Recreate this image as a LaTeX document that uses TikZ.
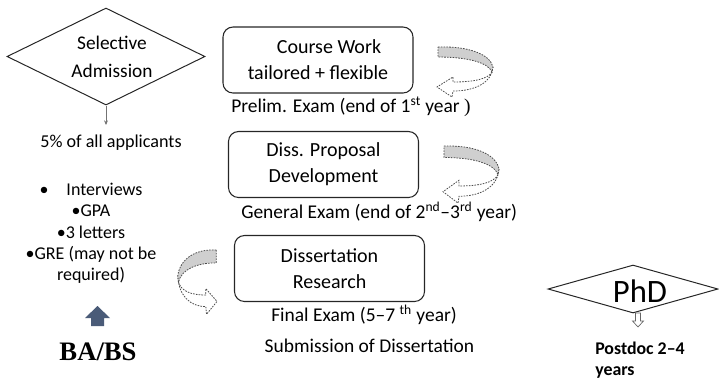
\documentclass[tikz,border=0pt]{standalone}
\usepackage{fontspec}
\setmainfont{Carlito}
\newfontfamily\timesfont{Liberation Serif}
\usetikzlibrary{shapes.geometric,arrows.meta}
\definecolor{slateblue}{HTML}{4A5B78}
\definecolor{bandgray}{HTML}{CFCFCF}
\begin{document}
\begin{tikzpicture}[x=0.75pt,y=-0.75pt,
  txt/.style={inner sep=0pt, font=\fontsize{14.6}{17}\selectfont},
  stagebox/.style={draw=black!85, line width=0.8pt, rounded corners=7.5pt,
    minimum width=142.5pt, minimum height=49.5pt, inner sep=0pt, align=center,
    font=\fontsize{15}{19.5}\selectfont},
  gate/.style={diamond, draw=black!85, line width=0.75pt, inner sep=0pt},
  ribbonback/.style={fill=bandgray, draw=black!70, dash pattern=on 1.2pt off 0.9pt, line width=0.6pt},
  ribbonfront/.style={fill=white, draw=black!70, dash pattern=on 1.2pt off 0.9pt, line width=0.6pt},
  uturn/.pic={
    \path[ribbonfront] (54,2) .. controls (50,9) and (36,12) .. (15,12) -- (15,7) -- (-1,17)
      -- (14,27) -- (15,21) .. controls (38,21) and (54,12) .. (55,-3);
    \path[ribbonback] (0,-23) .. controls (30,-24) and (52,-16) .. (55,-3) -- (54,2)
      .. controls (50,-8) and (28,-13) .. (0,-13) -- cycle;
  }
]
\useasboundingbox (0,0) rectangle (719,380);

% admission gate
\node[gate, minimum width=148.5pt, minimum height=72.75pt] (adm) at (106,56.5) {};
\node[inner sep=0pt, align=center, font=\fontsize{14.5}{21}\selectfont] (admtxt) at (112,57) {Selective\\Admission};
\coordinate (admend) at (106,125);
\draw[black!55, line width=0.75pt, -{Stealth[length=3.5pt,width=3pt]}] (adm.south) -- (admend);

\node[txt, font=\fontsize{13.6}{16}\selectfont] (pct) at (111,143) {5\% of all applicants};

\node[inner sep=0pt, align=center, font=\fontsize{13.5}{15.9}\selectfont, anchor=north] (reqs) at (91,183)
  {•\quad Interviews\\•GPA\\•3 letters\\•GRE (may not be\\required)};

% bachelor entry
\fill[slateblue] (97.5,306) -- (110,318) -- (104,318) -- (104,326) -- (91,326) -- (91,318) -- (85,318) -- cycle;
\node[inner sep=0pt, font=\timesfont\bfseries\fontsize{20}{24}\selectfont] (ba) at (98,352) {BA/BS};

% programme stages
\node[stagebox] (cw) at (318,60) {\hspace*{1.1em}Course Work\\tailored + flexible};
\node[txt, anchor=west] (prelim) at (231,107) {Prelim. Exam (end of 1\textsuperscript{st} year {\timesfont )}};

\node[stagebox] (dp) at (323.5,164.5) {Diss. Proposal\\Development};
\node[txt, anchor=west] (general) at (241,212) {General Exam (end of 2\textsuperscript{nd}–3\textsuperscript{rd} year)};

\node[stagebox] (dr) at (329.5,268.5) {Dissertation\\Research};
\node[txt] (final) at (364,315) {Final Exam (5–7 \textsuperscript{th} year)};
\node[txt] (submit) at (369.5,346) {Submission of Dissertation};

% turn-around arrows
\pic at (438,70) {uturn};
\pic[yscale=1.14] at (444,172.3) {uturn};
\pic[xscale=-0.7, yscale=1.286] at (216.3,279.6) {uturn};

% degree
\node[gate, minimum width=127.5pt, minimum height=36pt] (phd) at (633,289) {};
\node[inner sep=0pt, font=\fontsize{24.5}{28}\selectfont] (phdtxt) at (640,291) {PhD};
\draw[black!60, fill=white, line width=0.5pt] (635.5,313) -- (640.5,313) -- (640.5,321) -- (643.5,321)
  -- (638,327) -- (632.5,321) -- (635.5,321) -- cycle;
\node[inner sep=0pt, anchor=north west, align=left, font=\bfseries\fontsize{13.4}{15.75}\selectfont] (postdoc) at (595,342)
  {Postdoc 2–4\\years};
\end{tikzpicture}
\end{document}
